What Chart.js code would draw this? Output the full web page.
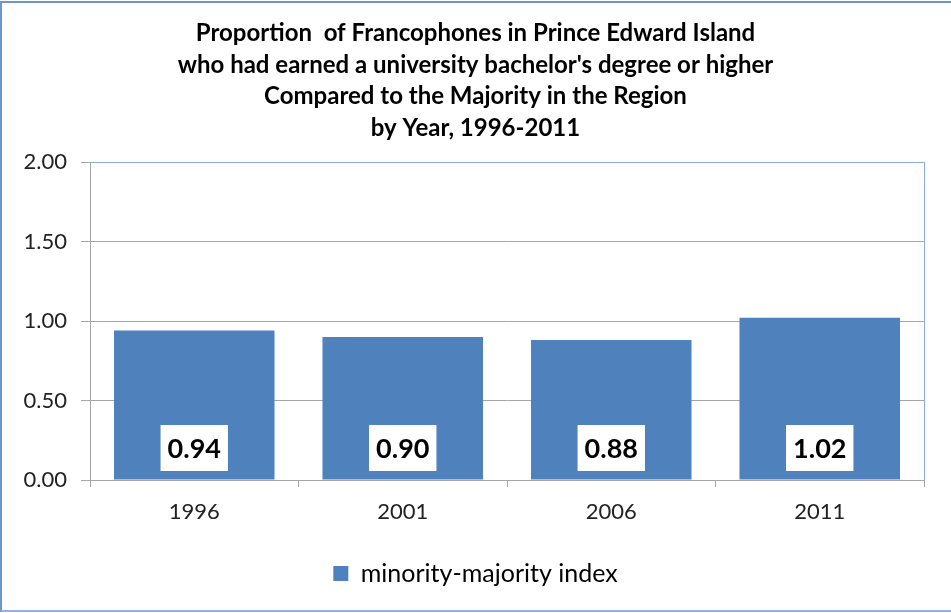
<!DOCTYPE html>
<html>
<head>
<meta charset="utf-8">
<script src="https://cdn.jsdelivr.net/npm/chart.js@4"></script>
<style>
  html, body { margin: 0; padding: 0; background: #fff; }
  #wrap { width: 951px; height: 613px; }
</style>
</head>
<body>
<div id="wrap"><canvas id="chart" width="951" height="613"></canvas></div>
<script>
  // data
  var years = ['1996', '2001', '2006', '2011'];
  var indexValues = [0.94, 0.90, 0.88, 1.02];
  var seriesName = 'minority-majority index';
  var titleLines = [
    'Proportion  of Francophones in Prince Edward Island',
    "who had earned a university bachelor's degree or higher",
    'Compared to the Majority in the Region',
    'by Year, 1996-2011'
  ];

  var barBlue = '#4f81bd';
  var axisGray = '#a6a6a6';
  var font = 'Lato, "Open Sans", sans-serif';

  // white boxes with the value, near the base of each bar
  var valueBoxes = {
    id: 'valueBoxes',
    afterDatasetsDraw: function(chart) {
      var ctx = chart.ctx;
      var meta = chart.getDatasetMeta(0);
      var base = chart.scales.y.getPixelForValue(0);
      ctx.save();
      ctx.font = 'bold 27px ' + font;
      ctx.textAlign = 'center';
      ctx.textBaseline = 'middle';
      meta.data.forEach(function(bar, i) {
        var txt = indexValues[i].toFixed(2);
        var w = ctx.measureText(txt).width + 14;
        var h = 46;
        var cy = base - 32;
        ctx.fillStyle = '#fff';
        ctx.fillRect(bar.x - w / 2, cy - h / 2, w, h);
        ctx.fillStyle = '#000';
        ctx.fillText(txt, bar.x, cy + 1);
      });
      ctx.restore();
    }
  };

  // plot-area edge and outer frame
  var frame = {
    id: 'frame',
    afterDraw: function(chart) {
      var ctx = chart.ctx, a = chart.chartArea;
      ctx.save();
      ctx.strokeStyle = '#8eaadb';
      ctx.lineWidth = 1;
      ctx.beginPath();
      ctx.moveTo(a.left, a.top + 0.5);
      ctx.lineTo(a.right + 0.5, a.top + 0.5);
      ctx.lineTo(a.right + 0.5, a.bottom);
      ctx.stroke();
      ctx.strokeStyle = '#6f97c9';
      ctx.lineWidth = 2;
      ctx.beginPath();
      ctx.moveTo(1, 612);
      ctx.lineTo(1, 2);
      ctx.lineTo(951, 2);
      ctx.stroke();
      ctx.strokeStyle = '#95b3d7';
      ctx.beginPath();
      ctx.moveTo(1, 611);
      ctx.lineTo(951, 611);
      ctx.stroke();
      ctx.restore();
    }
  };

  new Chart(document.getElementById('chart').getContext('2d'), {
    type: 'bar',
    data: {
      labels: years,
      datasets: [{
        label: seriesName,
        data: indexValues,
        backgroundColor: barBlue,
        borderWidth: 0,
        categoryPercentage: 0.77,
        barPercentage: 1
      }]
    },
    options: {
      responsive: false,
      animation: false,
      layout: { padding: { left: 0, right: 0, top: 0, bottom: 17 } },
      plugins: {
        tooltip: { enabled: false },
        title: {
          display: true,
          text: titleLines,
          color: '#000',
          font: { family: font, size: 24, weight: 'bold', lineHeight: 1.3125 },
          padding: { top: 18, bottom: 18 }
        },
        legend: {
          position: 'bottom',
          labels: {
            color: '#000',
            font: { family: font, size: 25 },
            boxWidth: 15,
            boxHeight: 15,
            padding: 8
          }
        }
      },
      scales: {
        x: {
          grid: { drawOnChartArea: false, drawTicks: true, tickLength: 7, color: axisGray },
          border: { color: axisGray },
          ticks: { color: '#222', font: { family: font, size: 22 }, padding: 12 },
          afterFit: function(s) { s.height = 73; }
        },
        y: {
          min: 0,
          max: 2,
          ticks: {
            stepSize: 0.5,
            color: '#222',
            font: { family: font, size: 22 },
            padding: 14,
            callback: function(v) { return v.toFixed(2); }
          },
          grid: { color: axisGray, tickLength: 9 },
          border: { color: axisGray },
          afterFit: function(s) { s.width = 90; }
        },
        // empty right-hand space so title and legend centre on the full width
        spacer: {
          position: 'right',
          display: true,
          grid: { drawOnChartArea: false, drawTicks: false },
          border: { display: false },
          ticks: { display: false },
          afterFit: function(s) { s.width = 27; }
        }
      }
    },
    plugins: [valueBoxes, frame]
  });
</script>
</body>
</html>
